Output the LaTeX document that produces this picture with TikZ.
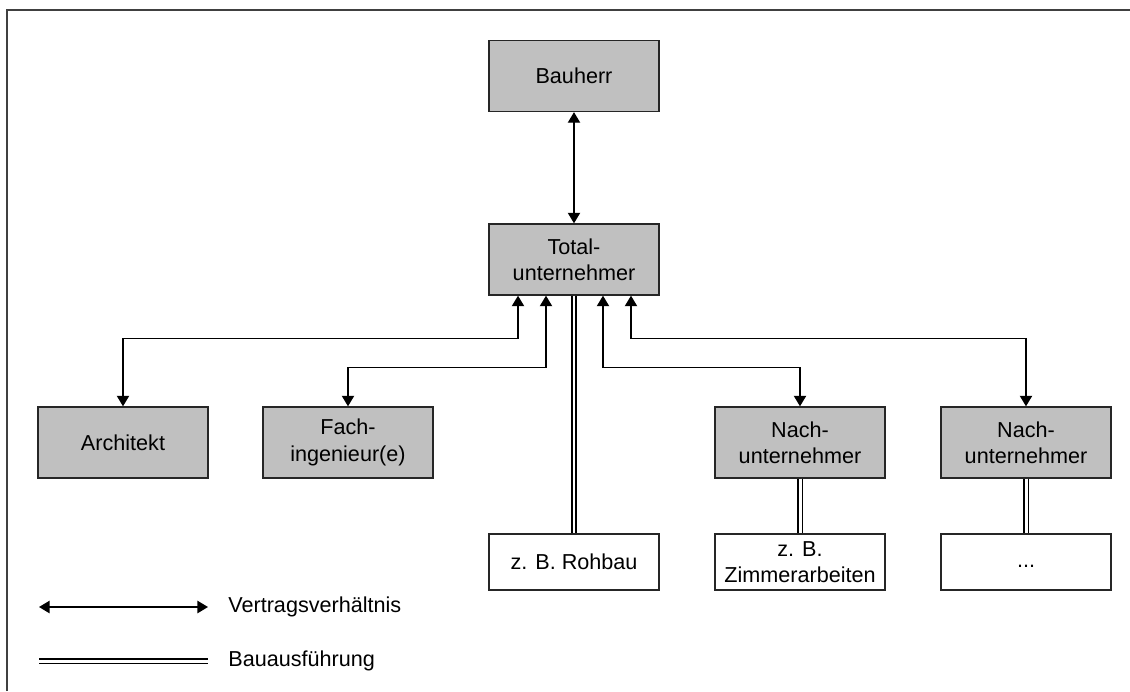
\documentclass[tikz,border=0pt]{standalone}
\usepackage{amssymb,amsmath}
\usepackage{fontspec}
\setmainfont{Liberation Sans}
\usepackage{tikz}
\usetikzlibrary{arrows.meta}

\definecolor{boxgray}{RGB}{192,192,192}
\tikzset{
    party/.style={shape=rectangle, draw=black!85, line width=0.8pt, fill=boxgray,
        minimum width=3.4cm, minimum height=1.42cm, align=center, inner sep=0pt},
    work/.style={shape=rectangle, draw=black!85, line width=0.8pt, fill=white,
        minimum width=3.4cm, minimum height=1.12cm, align=center, inner sep=0pt},
    vertrag/.style={{Triangle[length=6pt,width=7pt]}-{Triangle[length=6pt,width=7pt]}, line width=0.8pt},
    bau/.style={double, double distance=1.7pt, line width=0.75pt}
}

\begin{document}
\begin{tikzpicture}[x=0.02cm, y=-0.02cm, font=\fontsize{12.3pt}{15pt}\selectfont]
    \useasboundingbox (0,0) rectangle (1130,691);
    % frame
    \draw[black!75, line width=1.1pt] (7,691) -- (7,10) -- (1130,10);

    \node[party] at (574,76) (bauherr) {Bauherr};
    \node[party] at (574,259.5) (total) {Total-\\unternehmer};
    \node[party] at (123,442.5) (archi) {Architekt};
    \node[party] at (348,442.5) (fach) {Fach-\\ingenieur(e)};
    \node[party] at (800,442.5) (nach1) {Nach-\\unternehmer};
    \node[party] at (1026,442.5) (nach2) {Nach-\\unternehmer};
    \node[work] at (574,562) (rohbau) {z. B. Rohbau};
    \node[work] at (800,562) (zimmer) {z. B.\\Zimmerarbeiten};
    \node[work] at (1026,562) (weitere) {\strut...};

    % Vertragsverhaeltnisse
    \draw[vertrag] (bauherr) -- (total);
    \draw[vertrag] (archi.north) -- ++(0,-68) -| ([xshift=-1.12cm]total.south);
    \draw[vertrag] (fach.north) -- ++(0,-39) -| ([xshift=-0.56cm]total.south);
    \draw[vertrag] (nach1.north) -- ++(0,-39) -| ([xshift=0.58cm]total.south);
    \draw[vertrag] (nach2.north) -- ++(0,-68) -| ([xshift=1.14cm]total.south);

    % Bauausfuehrung
    \draw[bau] (total) -- (rohbau);
    \draw[bau] (nach1) -- (zimmer);
    \draw[bau] (nach2) -- (weitere);

    % Legende
    \coordinate (va) at (39,607);
    \coordinate (vb) at (208,607);
    \coordinate (ba) at (39,661);
    \coordinate (bb) at (208,661);
    \draw[vertrag] (va) -- (vb);
    \draw[bau] (ba) -- (bb);
    \node[anchor=west, inner sep=0pt] at (228,607) (vtext) {Vertragsverhältnis};
    \node[anchor=west, inner sep=0pt] at (228,661) (btext) {Bauausführung};
\end{tikzpicture}
\end{document}
